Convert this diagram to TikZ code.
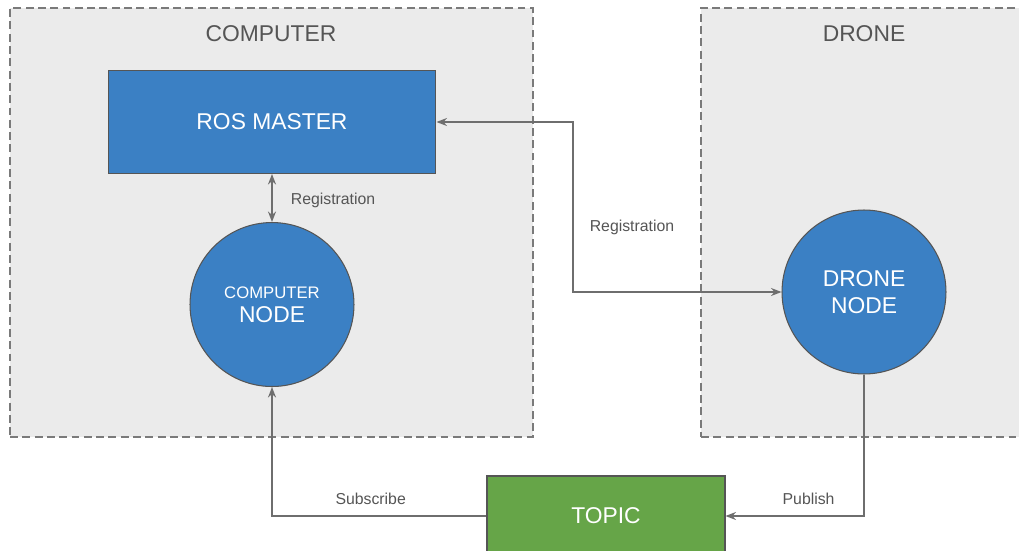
\documentclass[tikz,border=0pt]{standalone}
\usepackage{fontspec}
\setmainfont{Liberation Sans}
\usetikzlibrary{arrows.meta}
\usetikzlibrary{positioning}
\definecolor{hostfill}{HTML}{EBEBEB}
\definecolor{hostline}{HTML}{7A7A7A}
\definecolor{wire}{HTML}{6E6E6E}
\definecolor{txtgray}{HTML}{555555}
\definecolor{rosblue}{HTML}{3B80C4}
\definecolor{topicgreen}{HTML}{66A548}
\definecolor{edgegray}{HTML}{555555}

\begin{document}
\begin{tikzpicture}[x=0.02cm,y=-0.02cm,>={Stealth[length=6pt,width=4.6pt,inset=2pt]},line width=0.8pt]
\tikzstyle{host}=[draw=hostline,fill=hostfill,dash pattern=on 4.5pt off 2.5pt,line width=0.8pt]
\tikzstyle{title}=[text=txtgray,font=\fontsize{13}{15}\selectfont]
\tikzstyle{rosbox}=[draw=edgegray,line width=0.6pt,text=white,align=center,font=\fontsize{13}{15.3}\selectfont]
\tikzstyle{master}=[rosbox,fill=rosblue,minimum width=6.56cm,minimum height=2.06cm]
\tikzstyle{rosnode}=[rosbox,fill=rosblue,circle,minimum size=3.28cm,inner sep=0pt]
\tikzstyle{topicbox}=[rosbox,fill=topicgreen,minimum width=4.76cm,minimum height=1.6cm]
\tikzstyle{lbl}=[text=txtgray,font=\fontsize{9}{11}\selectfont]
\tikzstyle{link}=[draw=wire,<->]

\useasboundingbox (0,0) rectangle (1019,551);
\clip (0,0) rectangle (1019,551);

% machines
\node[host,minimum width=10.46cm,minimum height=8.58cm] (computer) at (271.5,222.5) {};
\node[host,minimum width=6.6cm,minimum height=8.58cm] (drone) at (866,222.5) {};
\node[title] (comptitle) at (271,34) {COMPUTER};
\node[title] (dronetitle) at (864,34) {DRONE};

% ros parts
\node[master] (master) at (272,122) {ROS MASTER};
\node[rosnode,below=0.96cm of master] (cnode) {{\fontsize{9.5}{11}\selectfont COMPUTER}\\[-1.5pt]NODE};
\node[rosnode] (dnode) at (864,292) {DRONE\\NODE};
\node[topicbox] (topic) at (606,516) {TOPIC};

% connections
\draw[link] (master) -- node[lbl,right=7pt,yshift=-1.5pt]{Registration} (cnode);
\coordinate (regturn) at (573,200);
\draw[link] (master.east) -| (regturn) |- (dnode.west);
\node[lbl] (reglbl) at (632,227) {Registration};
\draw[draw=wire,->] (dnode.south) |- node[lbl,pos=0.7,above=3pt]{Publish} (topic.east);
\draw[draw=wire,->] (topic.west) -| node[lbl,pos=0.27,above=3pt]{Subscribe} (cnode.south);
\end{tikzpicture}
\end{document}
